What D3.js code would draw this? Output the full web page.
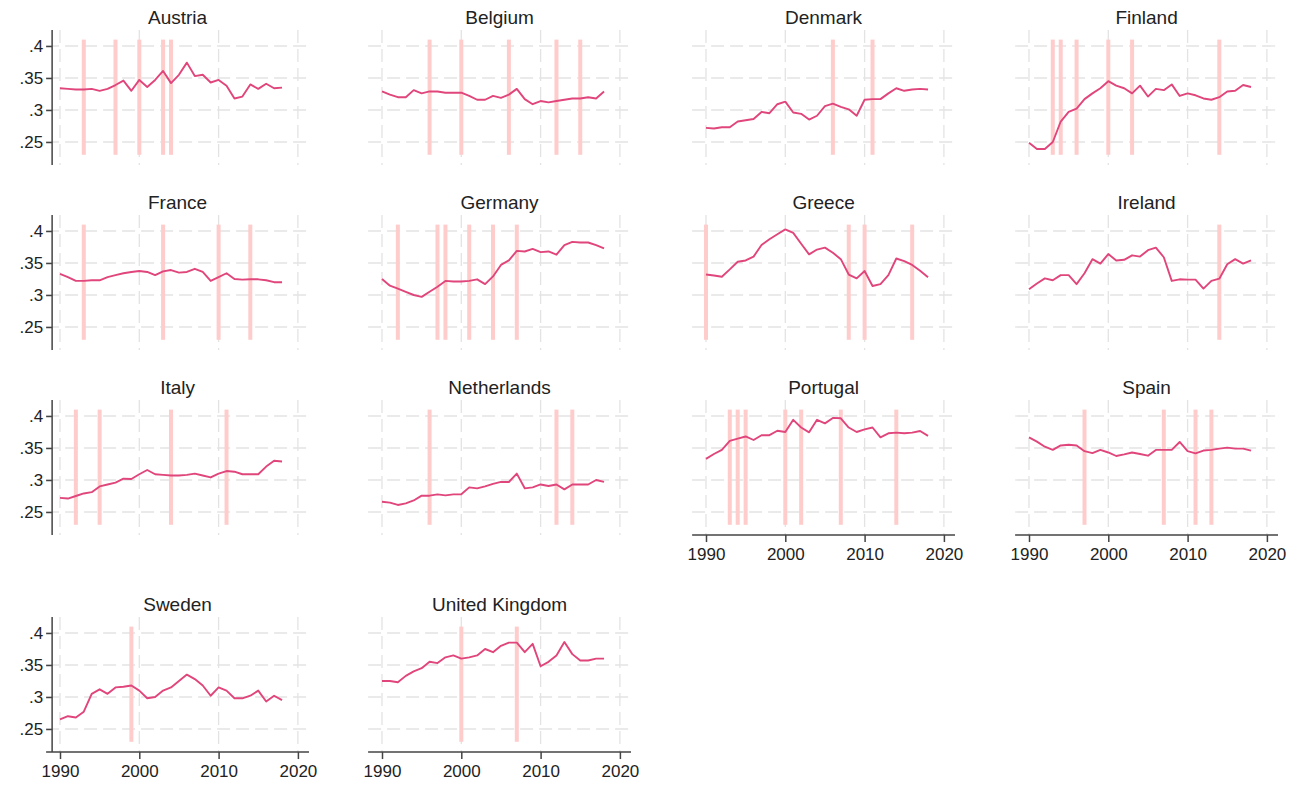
<!DOCTYPE html>
<html>
<head>
<meta charset="utf-8">
<script src="https://cdn.jsdelivr.net/npm/d3@7/dist/d3.min.js"></script>
<style>
  html, body { margin: 0; padding: 0; background: #fff; }
  svg { display: block; font-family: "Liberation Sans", Arial, Helvetica, sans-serif; }
</style>
</head>
<body>
<svg id="chart" width="1304" height="787"></svg>
<script>
// Years covered by every country series
const years = d3.range(1990, 2019);

const countries = ["Austria", "Belgium", "Denmark", "Finland", "France", "Germany", "Greece",
  "Ireland", "Italy", "Netherlands", "Portugal", "Spain", "Sweden", "United Kingdom"];

// Gini index by country, 1990-2018
const austria = [.334,.333,.332,.332,.333,.330,.333,.339,.346,.330,.347,.336,.347,.361,.342,.355,.374,.353,.355,.343,.347,.338,.318,.321,.340,.333,.341,.334,.335];
const belgium = [.329,.324,.320,.320,.331,.326,.329,.329,.327,.327,.327,.322,.316,.316,.322,.319,.324,.333,.317,.309,.314,.312,.314,.316,.318,.318,.320,.318,.329];
const denmark = [.272,.271,.273,.273,.282,.284,.286,.297,.295,.309,.313,.296,.294,.285,.291,.306,.310,.305,.301,.291,.316,.317,.317,.326,.334,.330,.332,.333,.332];
const finland = [.249,.239,.239,.250,.282,.297,.302,.317,.326,.334,.345,.338,.334,.326,.338,.321,.333,.331,.340,.322,.326,.323,.318,.316,.320,.329,.330,.339,.336];
const france = [.333,.328,.322,.322,.323,.323,.328,.331,.334,.336,.3375,.336,.331,.337,.339,.335,.336,.341,.336,.322,.328,.334,.325,.324,.3245,.3245,.323,.320,.320];
const germany = [.325,.3146,.310,.305,.300,.297,.305,.313,.322,.321,.321,.322,.3245,.317,.329,.347,.354,.369,.368,.372,.367,.368,.363,.378,.383,.382,.382,.378,.373];
const greece = [.332,.3305,.3286,.340,.352,.354,.360,.378,.387,.395,.4026,.397,.380,.3635,.371,.374,.366,.356,.332,.326,.3375,.314,.317,.331,.357,.353,.347,.338,.3276];
const ireland = [.309,.318,.326,.323,.331,.331,.317,.334,.356,.349,.364,.354,.355,.362,.360,.370,.374,.359,.322,.3245,.324,.324,.310,.322,.3255,.348,.356,.349,.354];
const italy = [.272,.271,.275,.279,.281,.290,.293,.296,.302,.3016,.309,.3156,.309,.308,.307,.307,.308,.310,.307,.304,.310,.314,.313,.309,.309,.309,.321,.330,.329];
const netherlands = [.266,.2646,.261,.2635,.268,.2755,.2755,.2776,.276,.2776,.2776,.2885,.287,.290,.294,.297,.2969,.310,.287,.2885,.293,.2906,.293,.2854,.293,.293,.293,.300,.297];
const portugal = [.333,.3406,.347,.361,.3646,.368,.3625,.370,.370,.377,.375,.394,.382,.3745,.394,.3885,.397,.3964,.382,.375,.379,.382,.3667,.373,.374,.373,.374,.3766,.369];
const spain = [.3667,.360,.352,.347,.354,.355,.354,.345,.342,.347,.343,.3375,.340,.343,.3406,.338,.347,.347,.347,.3594,.345,.3417,.346,.347,.349,.3505,.349,.349,.346];
const sweden = [.265,.270,.268,.277,.305,.312,.305,.315,.316,.318,.310,.298,.300,.310,.315,.325,.335,.328,.318,.302,.315,.310,.298,.298,.302,.310,.293,.302,.295];
const unitedKingdom = [.325,.325,.323,.333,.340,.345,.355,.353,.362,.365,.360,.362,.365,.375,.370,.380,.385,.385,.370,.383,.348,.355,.365,.386,.367,.357,.357,.360,.360];

// Election years marked for each country
const austriaEvents = [1993, 1997, 2000, 2003, 2004];
const belgiumEvents = [1996, 2000, 2006, 2012, 2015];
const denmarkEvents = [2006, 2011];
const finlandEvents = [1993, 1994, 1996, 2000, 2003, 2014];
const franceEvents = [1993, 2003, 2010, 2014];
const germanyEvents = [1992, 1997, 1998, 2001, 2004, 2007];
const greeceEvents = [1990, 2008, 2010, 2016];
const irelandEvents = [2014];
const italyEvents = [1992, 1995, 2004, 2011];
const netherlandsEvents = [1996, 2012, 2014];
const portugalEvents = [1993, 1994, 1995, 2000, 2002, 2007, 2014];
const spainEvents = [1997, 2007, 2011, 2013];
const swedenEvents = [1999];
const unitedKingdomEvents = [2000, 2007];

// Axis ticks
const yTicks = [.25, .3, .35, .4];
const yTickLabels = [".25", ".3", ".35", ".4"];
const xTicks = [1990, 2000, 2010, 2020];
const xTickLabels = ["1990", "2000", "2010", "2020"];

const series = [austria, belgium, denmark, finland, france, germany, greece, ireland,
  italy, netherlands, portugal, spain, sweden, unitedKingdom];
const events = [austriaEvents, belgiumEvents, denmarkEvents, finlandEvents, franceEvents,
  germanyEvents, greeceEvents, irelandEvents, italyEvents, netherlandsEvents, portugalEvents,
  spainEvents, swedenEvents, unitedKingdomEvents];

// Panel placement: pixel of 1990 per column, pixel of .4 per row
const colX = [60, 382, 706, 1029];
const rowY = [46, 231, 416, 633];
const yearPx = 7.93;
const unitPx = 640;

const lineColor = "#e0457b";
const eventColor = "#ffcccc";
const gridColor = "#e3e3e3";
const axisColor = "#444";
const textColor = "#222";

const svg = d3.select("#chart");

const nCols = 4;
const nPanels = countries.length;

function isBottom(i) {
  // bottom-most panel in its column
  return i + nCols >= nPanels;
}

countries.forEach((name, i) => {
  const col = i % nCols, row = Math.floor(i / nCols);
  const x = d3.scaleLinear().domain([1990, 2020]).range([colX[col], colX[col] + 30 * yearPx]);
  const y = d3.scaleLinear().domain([.25, .4]).range([rowY[row] + .15 * unitPx, rowY[row]]);
  const xMin = 1988.25, xMax = 2021.4, yMin = .214, yMax = .425;

  const g = svg.append("g");

  // grid
  g.append("g").selectAll("line").data(yTicks).join("line")
    .attr("x1", x(xMin)).attr("x2", x(xMax))
    .attr("y1", d => y(d)).attr("y2", d => y(d))
    .attr("stroke", gridColor).attr("stroke-width", 1.3)
    .attr("stroke-dasharray", "13,6");
  g.append("g").selectAll("line").data(xTicks).join("line")
    .attr("x1", d => x(d)).attr("x2", d => x(d))
    .attr("y1", y(yMax)).attr("y2", y(yMin))
    .attr("stroke", gridColor).attr("stroke-width", 1.3)
    .attr("stroke-dasharray", "13,6");

  // event bars
  g.append("g").selectAll("rect").data(events[i]).join("rect")
    .attr("x", d => x(d) - 2).attr("width", 4)
    .attr("y", y(.41)).attr("height", y(.23) - y(.41))
    .attr("fill", eventColor);

  // series line
  const line = d3.line().x((d, k) => x(years[k])).y(d => y(d));
  g.append("path").datum(series[i])
    .attr("d", line).attr("fill", "none")
    .attr("stroke", lineColor).attr("stroke-width", 1.9)
    .attr("stroke-linejoin", "round");

  // title
  g.append("text")
    .attr("x", (x(xMin) + x(xMax)) / 2).attr("y", y(yMax) - 6)
    .attr("text-anchor", "middle").attr("font-size", 19).attr("fill", textColor)
    .text(name);

  // y axis on first column
  if (col === 0) {
    const ax = d3.axisLeft(y).tickValues(yTicks)
      .tickFormat((d, k) => yTickLabels[k]).tickSize(6).tickPadding(3);
    const axG = g.append("g").attr("transform", `translate(${x(xMin) + 6},0)`).call(ax);
    axG.select(".domain").attr("d", `M0,${y(yMax)}V${y(yMin)}`).attr("stroke", axisColor).attr("stroke-width", 1.5);
    axG.selectAll(".tick line").attr("stroke", axisColor).attr("stroke-width", 1.5);
    axG.selectAll(".tick text").attr("font-size", 17).attr("fill", textColor)
      .attr("font-family", "\"Liberation Sans\", Arial, sans-serif");
  }

  // x axis on bottom panel of each column
  if (isBottom(i)) {
    const ax = d3.axisBottom(x).tickValues(xTicks)
      .tickFormat((d, k) => xTickLabels[k]).tickSize(7).tickPadding(6);
    const axG = g.append("g").attr("transform", `translate(0,${y(yMin)})`).call(ax);
    axG.select(".domain").attr("d", `M${x(xMin)},0H${x(xMax)}`).attr("stroke", axisColor).attr("stroke-width", 1.5);
    axG.selectAll(".tick line").attr("stroke", axisColor).attr("stroke-width", 1.5);
    axG.selectAll(".tick text").attr("font-size", 17).attr("fill", textColor)
      .attr("font-family", "\"Liberation Sans\", Arial, sans-serif");
  }
});
</script>
</body>
</html>
